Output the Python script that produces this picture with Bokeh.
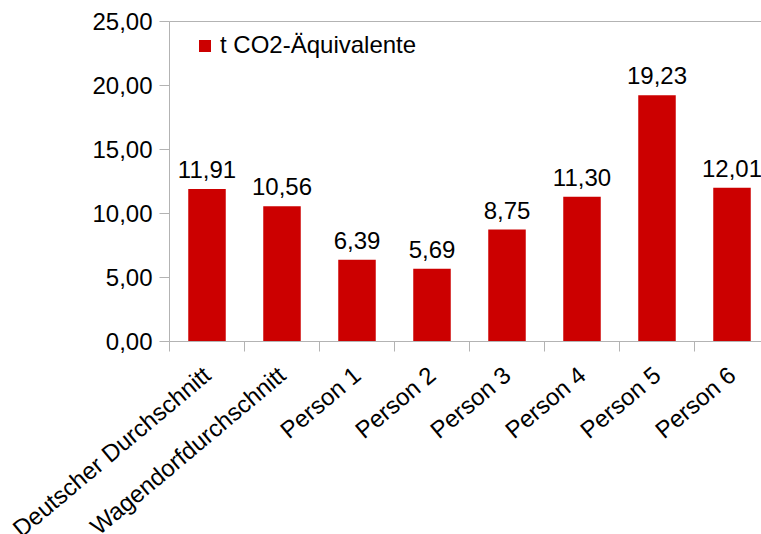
from bokeh.plotting import figure
from bokeh.models import (ColumnDataSource, Range1d, FixedTicker, LabelSet, Legend, LegendItem)
from bokeh.core.properties import value
from bokeh.embed import file_html
from bokeh.resources import INLINE
import math

categories = ["Deutscher Durchschnitt", "Wagendorfdurchschnitt", "Person 1", "Person 2",
              "Person 3", "Person 4", "Person 5", "Person 6"]
co2_values = [11.91, 10.56, 6.39, 5.69, 8.75, 11.30, 19.23, 12.01]
y_ticks = [0, 5, 10, 15, 20, 25]
series_name = "t CO2-Äquivalente"

FONT = "Liberation Sans"
FS = "24px"
RED = "#CC0000"
GRAY = "#b3b3b3"

W, H = 761, 534
# pixel geometry of the plotting area inside the page
AX_LEFT, AX_BOTTOM, AX_TOP = 169, 341, 21
PX_PER_CAT = 75.0
PX_PER_UNIT = (AX_BOTTOM - AX_TOP) / y_ticks[-1]

def de(v):
    return f"{v:.2f}".replace(".", ",")

n = len(categories)
xs = [i + 0.5 for i in range(n)]
src = ColumnDataSource(dict(x=xs, top=co2_values, lab=[de(v) for v in co2_values]))

x_range = Range1d(-AX_LEFT / PX_PER_CAT, (W - AX_LEFT) / PX_PER_CAT)
y_range = Range1d(-(H - AX_BOTTOM) / PX_PER_UNIT, AX_BOTTOM / PX_PER_UNIT)

p = figure(width=W, height=H, output_backend="svg", toolbar_location=None,
           x_range=x_range, y_range=y_range,
           min_border=0, min_border_left=0, min_border_right=0,
           min_border_top=0, min_border_bottom=0)
p.outline_line_color = None
p.background_fill_color = "white"
p.border_fill_color = "white"
p.grid.grid_line_color = None

bars = p.vbar(x="x", top="top", bottom=0, width=0.5, source=src,
              fill_color=RED, line_color=None)

# top border line of the plot area
p.segment(x0=[0], y0=[y_ticks[-1]], x1=[n], y1=[y_ticks[-1]], line_color=GRAY, line_width=1)

p.add_layout(LabelSet(x="x", y="top", text="lab", source=src, text_align="center",
                      text_baseline="alphabetic", y_offset=11, text_font=value(FONT),
                      text_font_size=value(FS), text_color="black"))

# y axis, fixed at x = 0
ya = p.yaxis[0]
ya.fixed_location = 0
ya.bounds = (y_ticks[0], y_ticks[-1])
ya.ticker = FixedTicker(ticks=y_ticks)
ya.major_label_overrides = {t: de(t) for t in y_ticks}
ya.major_label_text_font = FONT
ya.major_label_text_font_size = FS
ya.major_label_text_color = "black"
ya.major_tick_out = 10
ya.major_tick_in = 0
ya.minor_tick_line_color = None
ya.major_label_standoff = 7
ya.axis_line_color = GRAY
ya.major_tick_line_color = GRAY

# x axis, fixed at y = 0; labels hang rotated, ticks at category boundaries
xa = p.xaxis[0]
xa.fixed_location = 0
xa.bounds = (0, n)
xa.ticker = FixedTicker(ticks=xs, minor_ticks=list(range(n + 1)))
xa.major_label_overrides = {pos: name for pos, name in zip(xs, categories)}
xa.major_label_orientation = math.radians(40)
xa.major_label_text_font = FONT
xa.major_label_text_font_size = FS
xa.major_label_text_color = "black"
xa.major_tick_out = 0
xa.major_tick_in = 0
xa.major_tick_line_color = None
xa.major_label_standoff = 20
xa.minor_tick_out = 10
xa.minor_tick_in = 0
xa.minor_tick_line_color = GRAY
xa.axis_line_color = GRAY

legend = Legend(items=[LegendItem(label=series_name, renderers=[bars])],
                location=(AX_LEFT + 28, H - 59), glyph_width=15, glyph_height=15,
                label_standoff=8, label_text_font=FONT, label_text_font_size=FS,
                label_text_color="black", padding=0, margin=0,
                border_line_color=None, background_fill_alpha=0)
p.add_layout(legend)

open("out.html", "w").write(file_html(p, INLINE))
